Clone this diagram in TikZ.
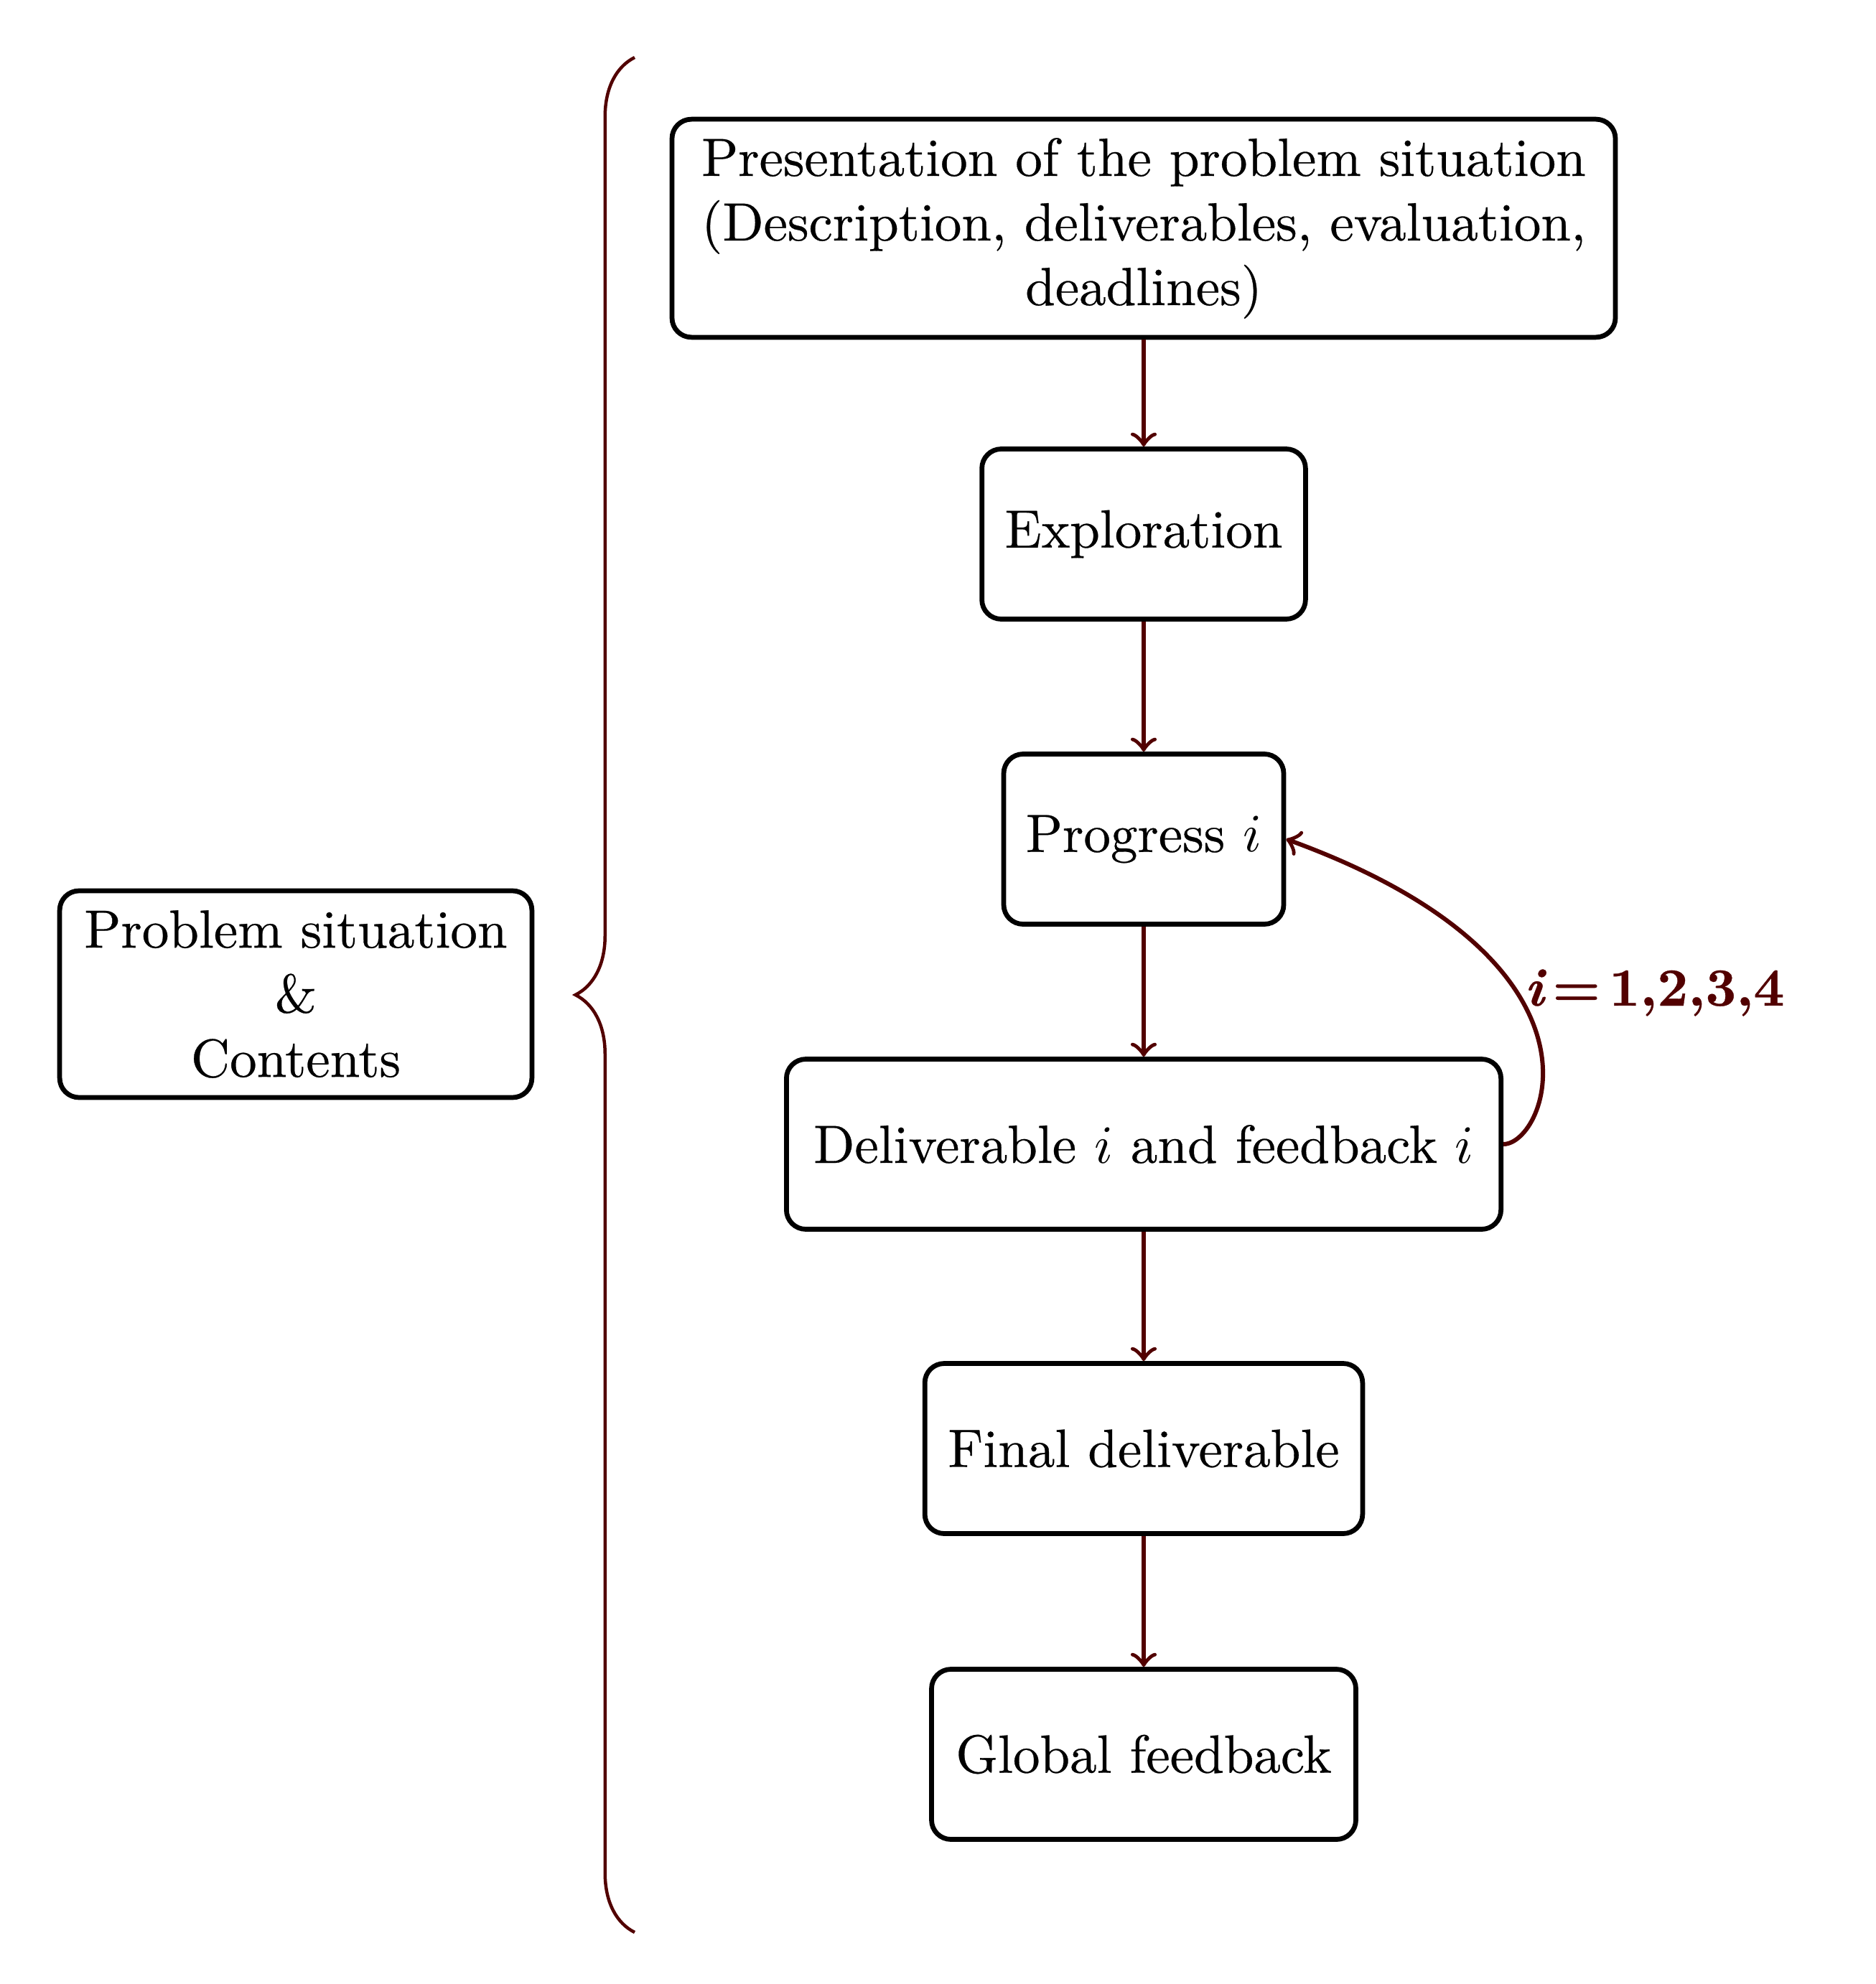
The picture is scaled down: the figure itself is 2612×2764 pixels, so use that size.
\documentclass[tikz,border=0pt]{standalone}
\usepackage{fontspec}
\setmainfont{Latin Modern Roman}[FakeBold=0.4]
\usetikzlibrary{decorations.pathreplacing}
\definecolor{darkred}{RGB}{82,0,0}
\newcommand{\looplabel}{\bfseries\itshape i\upshape\hspace{1.6pt}=\hspace{1.6pt}1,2,3,4}
\begin{document}
\begin{tikzpicture}[x=0.13333pt,y=-0.13333pt,
  box/.style={draw, line width=0.9pt, rounded corners=3.6pt, align=center, inner sep=0pt, minimum height=31.6pt},
  flow/.style={->, draw=darkred, line width=0.8pt},
  lab/.style={text=darkred, anchor=west, inner sep=0pt}]
\useasboundingbox (0,0) rectangle (2612,2764);
\node[box, minimum width=175.2pt, minimum height=40.5pt] (pres) at (1593,318)
  {Presentation of the problem situation\\(Description, deliverables, evaluation,\\deadlines)};
\node[box, minimum width=60.1pt] (expl) at (1593,744) {Exploration};
\node[box, minimum width=52.0pt] (prog) at (1593,1169) {Progress $i$};
\node[box, minimum width=132.7pt] (deliv) at (1593,1594) {Deliverable $i$ and feedback $i$};
\node[box, minimum width=81.3pt] (final) at (1593,2018) {Final deliverable};
\node[box, minimum width=78.8pt] (global) at (1593,2444) {Global feedback};
\node[box, minimum width=87.7pt, minimum height=38.4pt] (left) at (412,1385)
  {Problem situation\\\&\\Contents};
\node[lab] (lbl) at (2122,1383) {\looplabel};
\draw[flow] (pres) -- (expl);
\draw[flow] (expl) -- (prog);
\draw[flow] (prog) -- (deliv);
\draw[flow] (deliv) -- (final);
\draw[flow] (final) -- (global);
\draw[flow] (deliv.east) .. controls +(60,0) and +(470,171) .. (prog.east);
\coordinate (btop) at (884,80);
\coordinate (bbot) at (884,2692);
\draw[darkred, line width=0.6pt, decorate, decoration={brace, amplitude=11pt}] (bbot) -- (btop);
\end{tikzpicture}
\end{document}
